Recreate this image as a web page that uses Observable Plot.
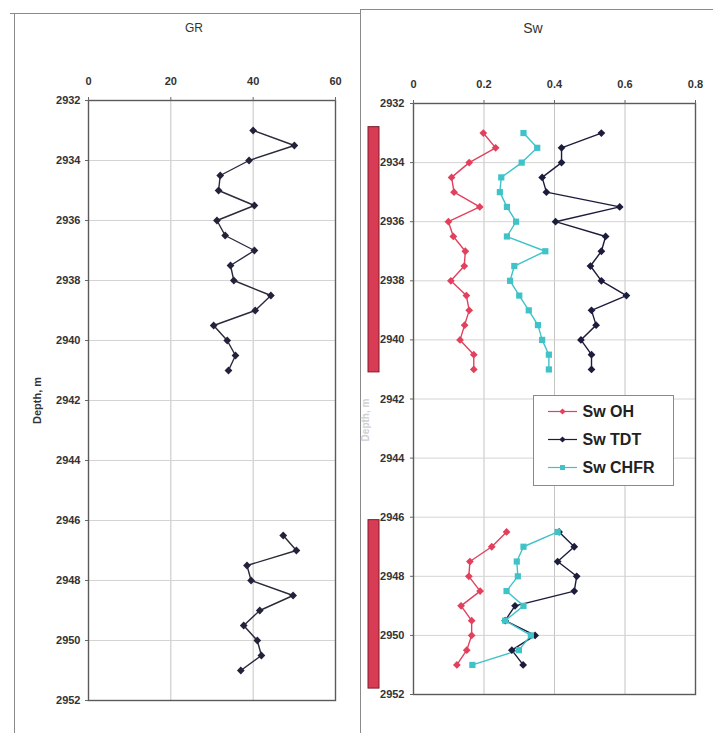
<!DOCTYPE html>
<html>
<head>
<meta charset="utf-8">
<script src="https://cdn.jsdelivr.net/npm/d3@7"></script>
<script src="https://cdn.jsdelivr.net/npm/@observablehq/plot@0.6"></script>
<style>
  html, body { margin: 0; padding: 0; background: #fff; }
  #page { position: relative; width: 713px; height: 733px; overflow: hidden; background: #fff;
          font-family: "Liberation Sans", Arial, sans-serif; }
  .hline { position: absolute; height: 0; border-top: 1.5px solid #8a8a8a; }
  .vline { position: absolute; width: 0; border-left: 1.5px solid #8a8a8a; }
  .title { position: absolute; transform: translateX(-50%); color: #333; white-space: nowrap; }
  .vlabel { position: absolute; transform: translate(-50%, -50%) rotate(-90deg); white-space: nowrap; }
</style>
</head>
<body>
<div id="page"></div>
<script>
// ---------------- data ----------------
const depthTicks = [2932, 2934, 2936, 2938, 2940, 2942, 2944, 2946, 2948, 2950, 2952];
const grTicks = [0, 20, 40, 60];
const swTicks = [0, 0.2, 0.4, 0.6, 0.8];

const depthsUpper = [2933, 2933.5, 2934, 2934.5, 2935, 2935.5, 2936, 2936.5, 2937, 2937.5,
                     2938, 2938.5, 2939, 2939.5, 2940, 2940.5, 2941];
const depthsLower = [2946.5, 2947, 2947.5, 2948, 2948.5, 2949, 2949.5, 2950, 2950.5, 2951];

const grUpper = [40, 50, 39, 32, 31.6, 40.3, 31.2, 33.2, 40.3, 34.5, 35.3, 44.3, 40.5, 30.4, 33.7, 35.7, 34];
const grLower = [47.3, 50.5, 38.5, 39.5, 49.7, 41.6, 37.7, 41, 42, 37];

const swOhUpper   = [0.198, 0.233, 0.158, 0.108, 0.115, 0.188, 0.099, 0.113, 0.147, 0.144, 0.106, 0.150, 0.158, 0.145, 0.132, 0.171, 0.171];
const swTdtUpper  = [0.533, 0.420, 0.420, 0.365, 0.377, 0.585, 0.403, 0.545, 0.533, 0.502, 0.533, 0.604, 0.505, 0.518, 0.475, 0.505, 0.505];
const swChfrUpper = [0.312, 0.351, 0.307, 0.249, 0.245, 0.265, 0.291, 0.265, 0.374, 0.286, 0.274, 0.300, 0.327, 0.353, 0.365, 0.384, 0.384];

const swOhLower   = [0.264, 0.222, 0.160, 0.157, 0.189, 0.135, 0.165, 0.165, 0.151, 0.123];
const swTdtLower  = [0.413, 0.456, 0.409, 0.463, 0.456, 0.288, 0.260, 0.345, 0.279, 0.311];
const swChfrLower = [0.409, 0.312, 0.293, 0.296, 0.264, 0.312, 0.260, 0.333, 0.299, 0.167];

const seriesNames   = ["Sw OH", "Sw TDT", "Sw CHFR"];
const seriesColors  = ["#e2415e", "#1c1c3c", "#3fc3c9"];
const seriesSymbols = ["diamond2", "diamond2", "square"];

const perfTops  = [2932.8, 2946.1];
const perfBases = [2941.1, 2951.8];

// ---------------- tables ----------------
const grRows = [
  ...depthsUpper.map((d, i) => ({depth: d, gr: grUpper[i], seg: "upper"})),
  ...depthsLower.map((d, i) => ({depth: d, gr: grLower[i], seg: "lower"}))
];
const swSets = [
  ["Sw OH", swOhUpper, swOhLower],
  ["Sw TDT", swTdtUpper, swTdtLower],
  ["Sw CHFR", swChfrUpper, swChfrLower]
];
const swRows = [];
for (const [name, up, lo] of swSets) {
  depthsUpper.forEach((d, i) => swRows.push({series: name, depth: d, sw: up[i], seg: "upper"}));
  depthsLower.forEach((d, i) => swRows.push({series: name, depth: d, sw: lo[i], seg: "lower"}));
}
const perfRows = perfTops.map((t, i) => ({top: t, base: perfBases[i]}));

// ---------------- page ----------------
const page = document.getElementById("page");
function add(html) { page.insertAdjacentHTML("beforeend", html); }
function place(node, left, top, z) {
  node.style.position = "absolute";
  node.style.left = left + "px";
  node.style.top = top + "px";
  node.style.zIndex = z || 1;
  page.appendChild(node);
}

// scanned page borders
add('<div class="hline" style="left:10px;top:13px;width:350px"></div>');
add('<div class="vline" style="left:14px;top:13px;height:730px"></div>');
add('<div class="vline" style="left:360px;top:9px;height:730px"></div>');
add('<div class="hline" style="left:360px;top:9px;width:360px"></div>');

// titles
add('<div class="title" style="left:194px;top:21px;font-size:12px;">GR</div>');
add('<div class="title" style="left:533px;top:20px;font-size:14px;">Sw</div>');
// faint, mostly hidden axis title of the Sw track
add('<div class="vlabel" style="left:365px;top:420px;font-size:10px;font-weight:bold;color:#d0d0d0;">Depth, m</div>');

const baseStyle = {
  fontFamily: "'Liberation Sans', Arial, sans-serif",
  fontSize: "11px",
  fontWeight: "bold",
  color: "#333",
  background: "transparent",
  overflow: "visible"
};

// ---------------- GR track ----------------
const grPlot = Plot.plot({
  width: 340, height: 660,
  marginLeft: 78, marginRight: 15, marginTop: 40, marginBottom: 20,
  style: baseStyle,
  x: {domain: [0, 60]},
  y: {domain: [2932, 2952], reverse: true},
  marks: [
    Plot.gridX([20, 40], {stroke: "#c4c4c4", strokeOpacity: 1}),
    Plot.gridY(depthTicks, {stroke: "#d4d4d4", strokeOpacity: 1}),
    Plot.frame({stroke: "#5a5a5a", strokeWidth: 1.4}),
    Plot.axisX(grTicks, {anchor: "top", tickSize: 4, tickPadding: 12, label: null, stroke: "#666"}),
    Plot.axisY(depthTicks, {anchor: "left", tickSize: 3, tickPadding: 5, tickFormat: d => String(d),
                            label: "Depth, m", labelAnchor: "center", labelOffset: 55, labelArrow: "none", stroke: "#666"}),
    Plot.line(grRows, {x: "gr", y: "depth", z: "seg", stroke: "#2a2a3a", strokeWidth: 1.4}),
    Plot.dot(grRows, {x: "gr", y: "depth", symbol: "diamond2", r: 3.5, fill: "#22223a", stroke: "none"})
  ]
});
place(grPlot, 10, 60, 2);

// ---------------- Sw track ----------------
const swPlot = Plot.plot({
  width: 347, height: 654,
  marginLeft: 53, marginRight: 12, marginTop: 43, marginBottom: 20,
  style: baseStyle,
  x: {domain: [0, 0.8]},
  y: {domain: [2932, 2952], reverse: true},
  color: {domain: seriesNames, range: seriesColors},
  symbol: {domain: seriesNames, range: seriesSymbols},
  marks: [
    Plot.gridX([0.2, 0.4, 0.6], {stroke: "#c4c4c4", strokeOpacity: 1}),
    Plot.gridY(depthTicks, {stroke: "#d4d4d4", strokeOpacity: 1}),
    Plot.frame({stroke: "#5a5a5a", strokeWidth: 1.4}),
    Plot.axisX(swTicks, {anchor: "top", tickSize: 4, tickPadding: 12, label: null, tickFormat: d => String(d), stroke: "#666"}),
    Plot.axisY(depthTicks, {anchor: "left", tickSize: 3, tickPadding: 6, tickFormat: d => String(d), label: null, stroke: "#666"}),
    Plot.line(swRows, {x: "sw", y: "depth", z: d => d.series + d.seg, stroke: "series", strokeWidth: 1.4}),
    Plot.dot(swRows, {x: "sw", y: "depth", fill: "series", symbol: "series", r: 3.5, stroke: "none"})
  ]
});
place(swPlot, 360, 60, 2);

// ---------------- perforation intervals ----------------
const perfPlot = Plot.plot({
  width: 11, height: 654,
  marginLeft: 0, marginRight: 0, marginTop: 43, marginBottom: 20,
  style: {background: "transparent", overflow: "visible"},
  x: {domain: [0, 1], axis: null},
  y: {domain: [2932, 2952], reverse: true, axis: null},
  marks: [
    Plot.rect(perfRows, {x1: 0, x2: 1, y1: "top", y2: "base", fill: "#d83c55", stroke: "#7e1c2c", strokeWidth: 1, inset: 0})
  ]
});
place(perfPlot, 368, 60, 3);

// ---------------- legend ----------------
const legendBox = document.createElement("div");
legendBox.style.cssText = "width:141px;height:91px;background:#fff;border:1px solid #8a8a8a;box-sizing:border-box;";
const legendPlot = Plot.plot({
  width: 139, height: 89, margin: 0,
  style: {background: "transparent", overflow: "visible", fontFamily: "'Liberation Sans', Arial, sans-serif"},
  x: {domain: [0, 139], range: [0, 139], axis: null},
  y: {type: "point", domain: seriesNames, range: [15, 71], padding: 0, axis: null},
  color: {domain: seriesNames, range: seriesColors},
  symbol: {domain: seriesNames, range: seriesSymbols},
  marks: [
    Plot.ruleY(seriesNames, {y: d => d, x1: 14, x2: 43, stroke: d => d, strokeWidth: 1.2}),
    Plot.dot(seriesNames, {y: d => d, x: 28, fill: d => d, symbol: d => d, r: 2.8, stroke: "none"}),
    Plot.text(seriesNames, {y: d => d, x: 48, text: d => d, textAnchor: "start", fontSize: 16, fontWeight: "bold", fill: "#222"})
  ]
});
legendBox.appendChild(legendPlot);
place(legendBox, 533, 395, 5);
</script>
</body>
</html>
